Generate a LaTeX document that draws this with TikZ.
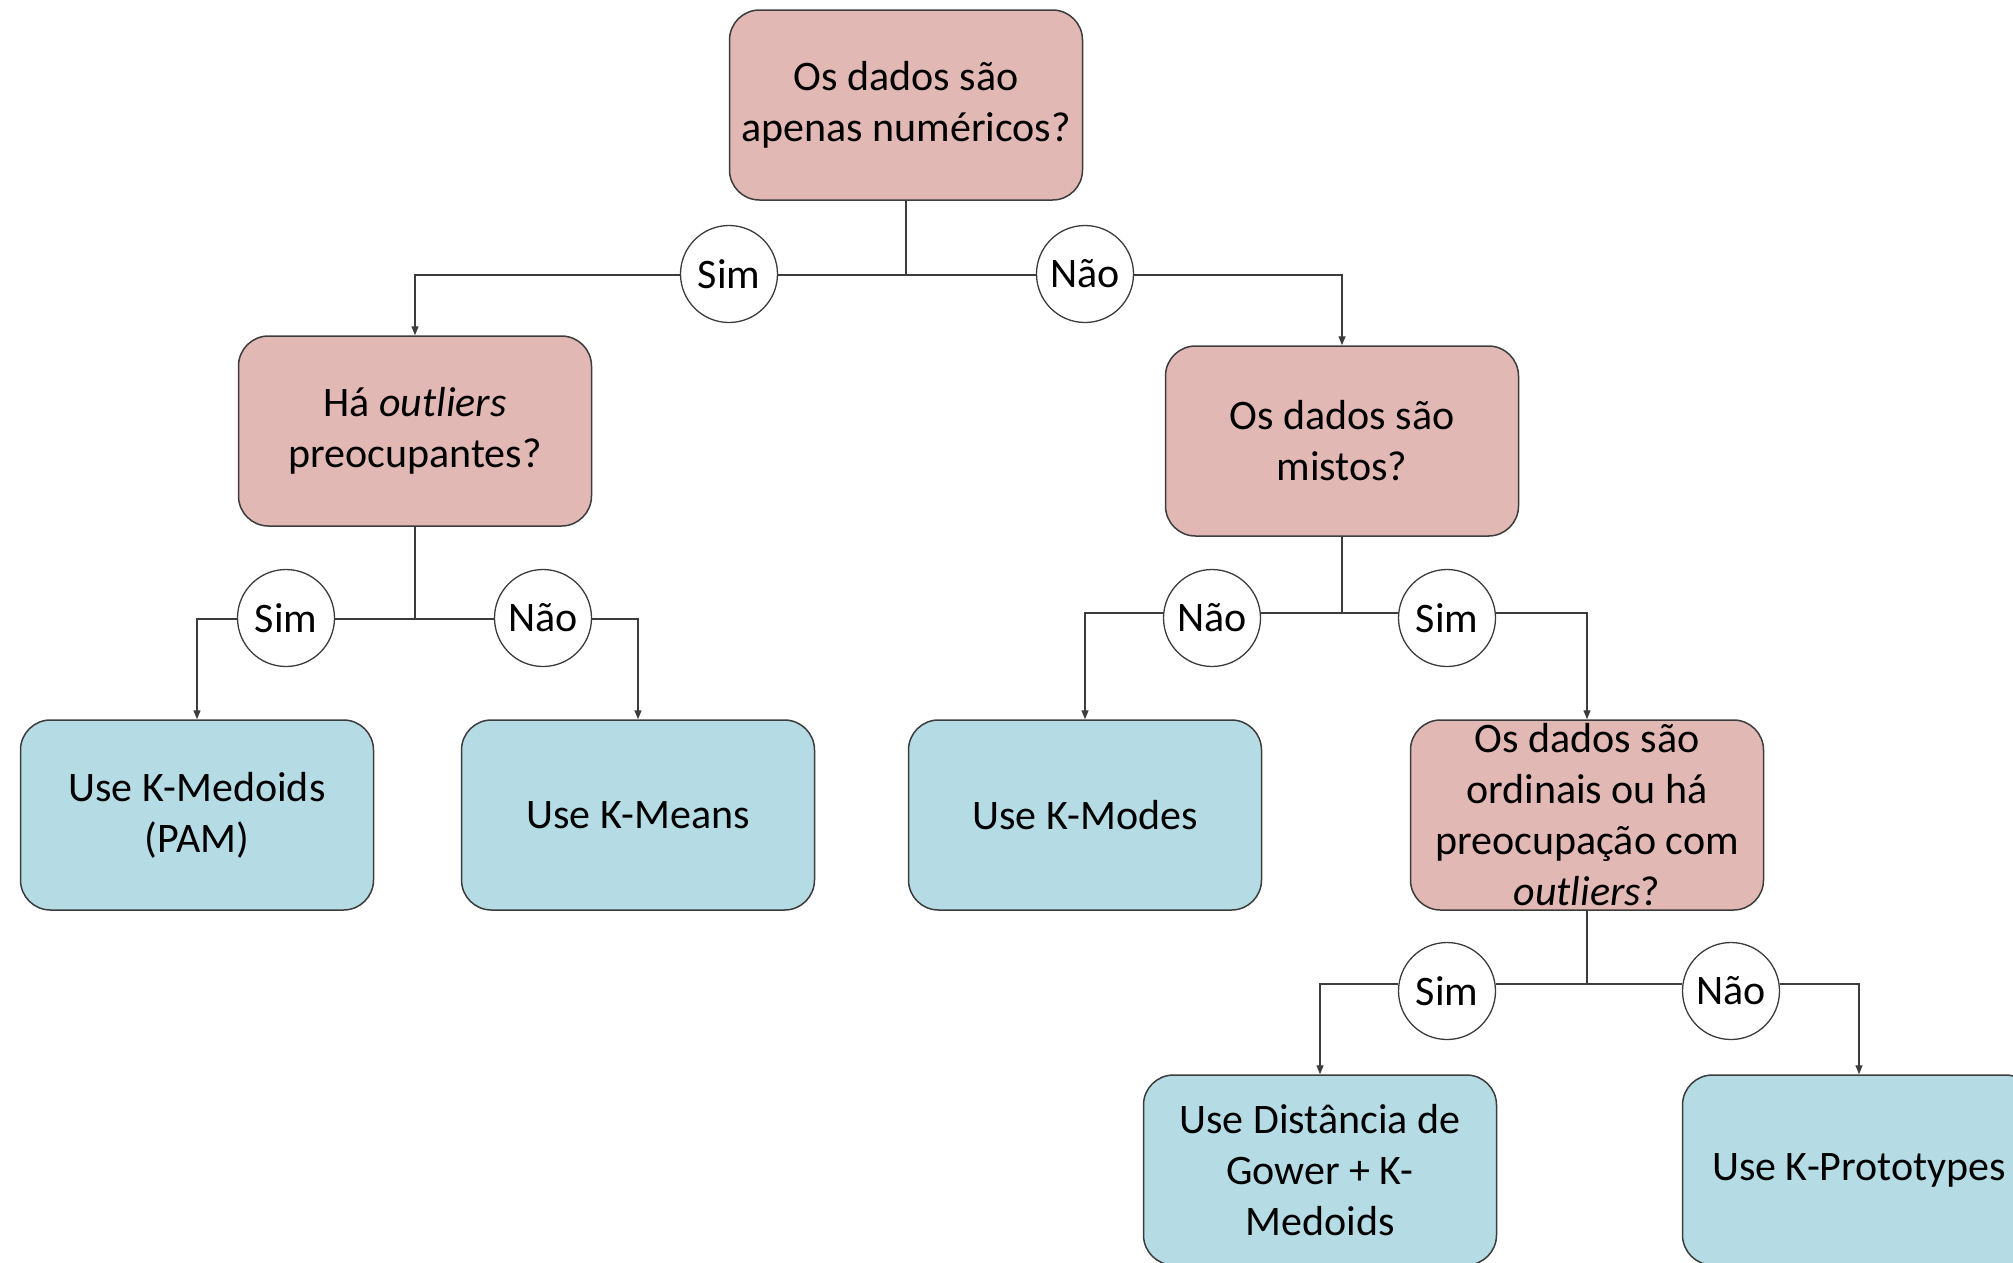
\documentclass[tikz,border=0pt]{standalone}
\usepackage{fontspec}
\setmainfont{Carlito}
\usetikzlibrary{arrows.meta}
\definecolor{qpink}{RGB}{225,184,180}
\definecolor{apblue}{RGB}{181,220,229}
\definecolor{edge}{RGB}{60,60,60}
\tikzset{
  base/.style={draw=edge, line width=1.5pt, rounded corners=30pt, minimum width=353pt, minimum height=190pt, align=center, inner sep=0pt, font=\fontsize{42}{51}\selectfont},
  question/.style={base, fill=qpink},
  answer/.style={base, fill=apblue},
  choice/.style={circle, draw=edge, line width=1.3pt, fill=white, minimum size=97pt, inner sep=0pt, font=\fontsize{42}{51}\selectfont},
  conn/.style={draw=edge, line width=1.3pt},
  arr/.style={conn, -{Triangle[length=9pt,width=7pt]}}
}
\begin{document}
\begin{tikzpicture}[x=1pt,y=-1pt]
\useasboundingbox (0,0) rectangle (2013,1262);
\clip (0,0) rectangle (2013,1262);
% questions
\node[question] (q1) at (906,105) {Os dados são\\apenas numéricos?};
\node[question] (q2) at (415,431) {Há \textit{outliers}\\preocupantes?};
\node[question] (q3) at (1342,441) {Os dados são\\mistos?};
\node[question] (q4) at (1587,815) {Os dados são\\ordinais ou há\\preocupação com\\\textit{outliers}?};
% answers
\node[answer] (a1) at (197,815) {Use K-Medoids\\(PAM)};
\node[answer] (a2) at (638,815) {Use K-Means};
\node[answer] (a3) at (1085,815) {Use K-Modes};
\node[answer] (a4) at (1320,1170) {Use Distância de\\Gower + K-\\Medoids};
\node[answer] (a5) at (1859,1170) {Use K-Prototypes};
% junctions
\coordinate (j1) at (906,275);
\coordinate (j2) at (415,619);
\coordinate (j3) at (1342,613);
\coordinate (j4) at (1587,984);
% choice circles
\node[choice] (s1) at (729,274) {Sim};
\node[choice] (n1) at (1085,274) {Não};
\node[choice] (s2) at (286,618) {Sim};
\node[choice] (n2) at (543,618) {Não};
\node[choice] (n3) at (1212,618) {Não};
\node[choice] (s3) at (1447,618) {Sim};
\node[choice] (s4) at (1447,991) {Sim};
\node[choice] (n4) at (1731,991) {Não};
% connectors level 1
\draw[conn] (q1.south) -- (j1);
\draw[conn] (j1) -- (s1.east |- j1);
\draw[conn] (j1) -- (n1.west |- j1);
\draw[arr] (s1.west |- j1) -| (q2.north);
\draw[arr] (n1.east |- j1) -| (q3.north);
% level 2 left
\draw[conn] (q2.south) -- (j2);
\draw[conn] (j2) -- (s2.east |- j2);
\draw[conn] (j2) -- (n2.west |- j2);
\draw[arr] (s2.west |- j2) -| (a1.north);
\draw[arr] (n2.east |- j2) -| (a2.north);
% level 2 right
\draw[conn] (q3.south) -- (j3);
\draw[conn] (j3) -- (n3.east |- j3);
\draw[conn] (j3) -- (s3.west |- j3);
\draw[arr] (n3.west |- j3) -| (a3.north);
\draw[arr] (s3.east |- j3) -| (q4.north);
% level 3
\draw[conn] (q4.south) -- (j4);
\draw[conn] (j4) -- (s4.east |- j4);
\draw[conn] (j4) -- (n4.west |- j4);
\draw[arr] (s4.west |- j4) -| (a4.north);
\draw[arr] (n4.east |- j4) -| (a5.north);
\end{tikzpicture}
\end{document}
